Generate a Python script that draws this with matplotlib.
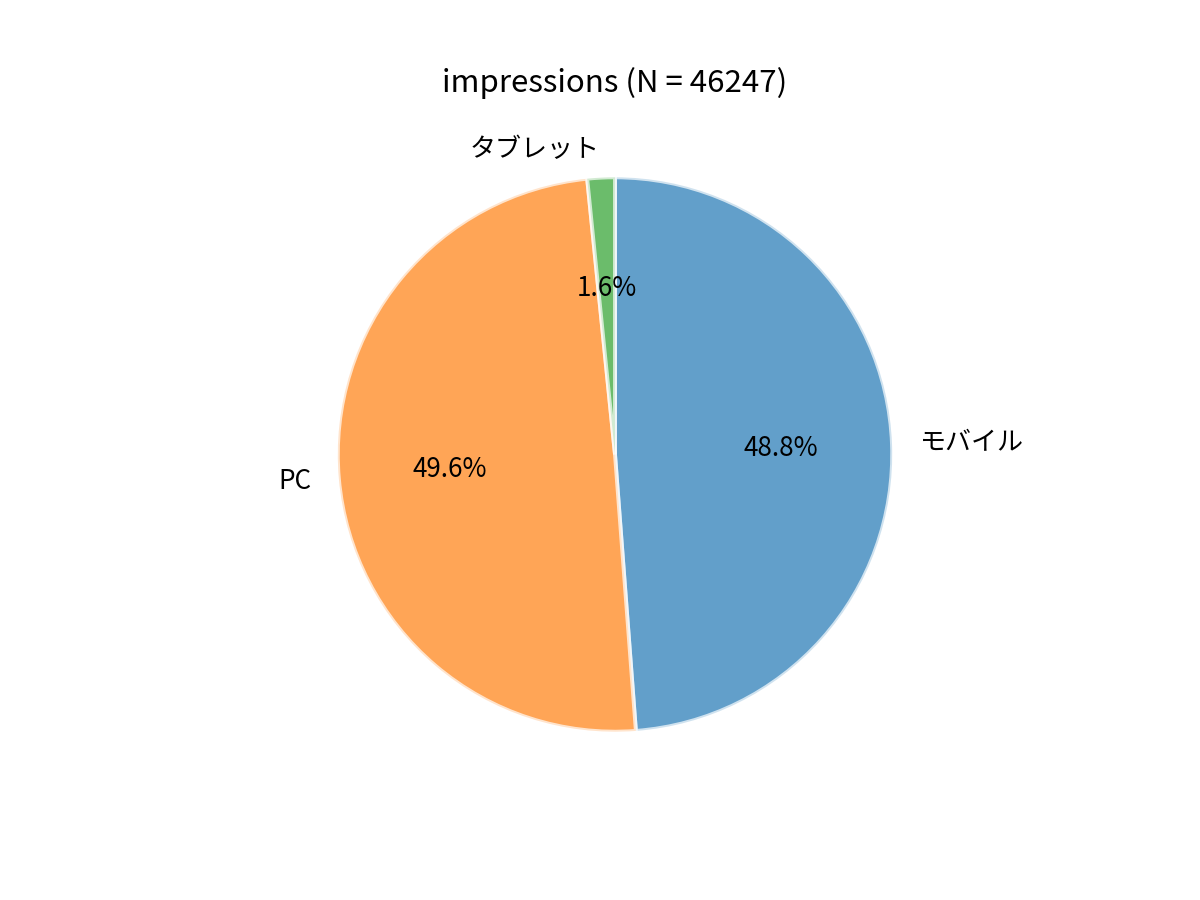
import matplotlib
matplotlib.use("Agg")
import matplotlib.pyplot as plt

plt.rcParams['font.family'] = ['Noto Sans CJK JP', 'DejaVu Sans']

# デバイス別インプレッション数
labels = ["モバイル", "PC", "タブレット"]
counts = [22568, 22939, 740]
colors = ["tab:blue", "tab:orange", "tab:green"]

total = sum(counts)

fig, ax = plt.subplots(figsize=(6.4, 4.8), dpi=187.5)
ax.pie(counts, labels=labels, colors=colors, autopct="%1.1f%%",
       startangle=90, counterclock=False,
       wedgeprops={"alpha": 0.7, "edgecolor": "white", "linewidth": 1.5})
ax.set_title("impressions (N = %d)" % total)
fig.savefig("out.png")
